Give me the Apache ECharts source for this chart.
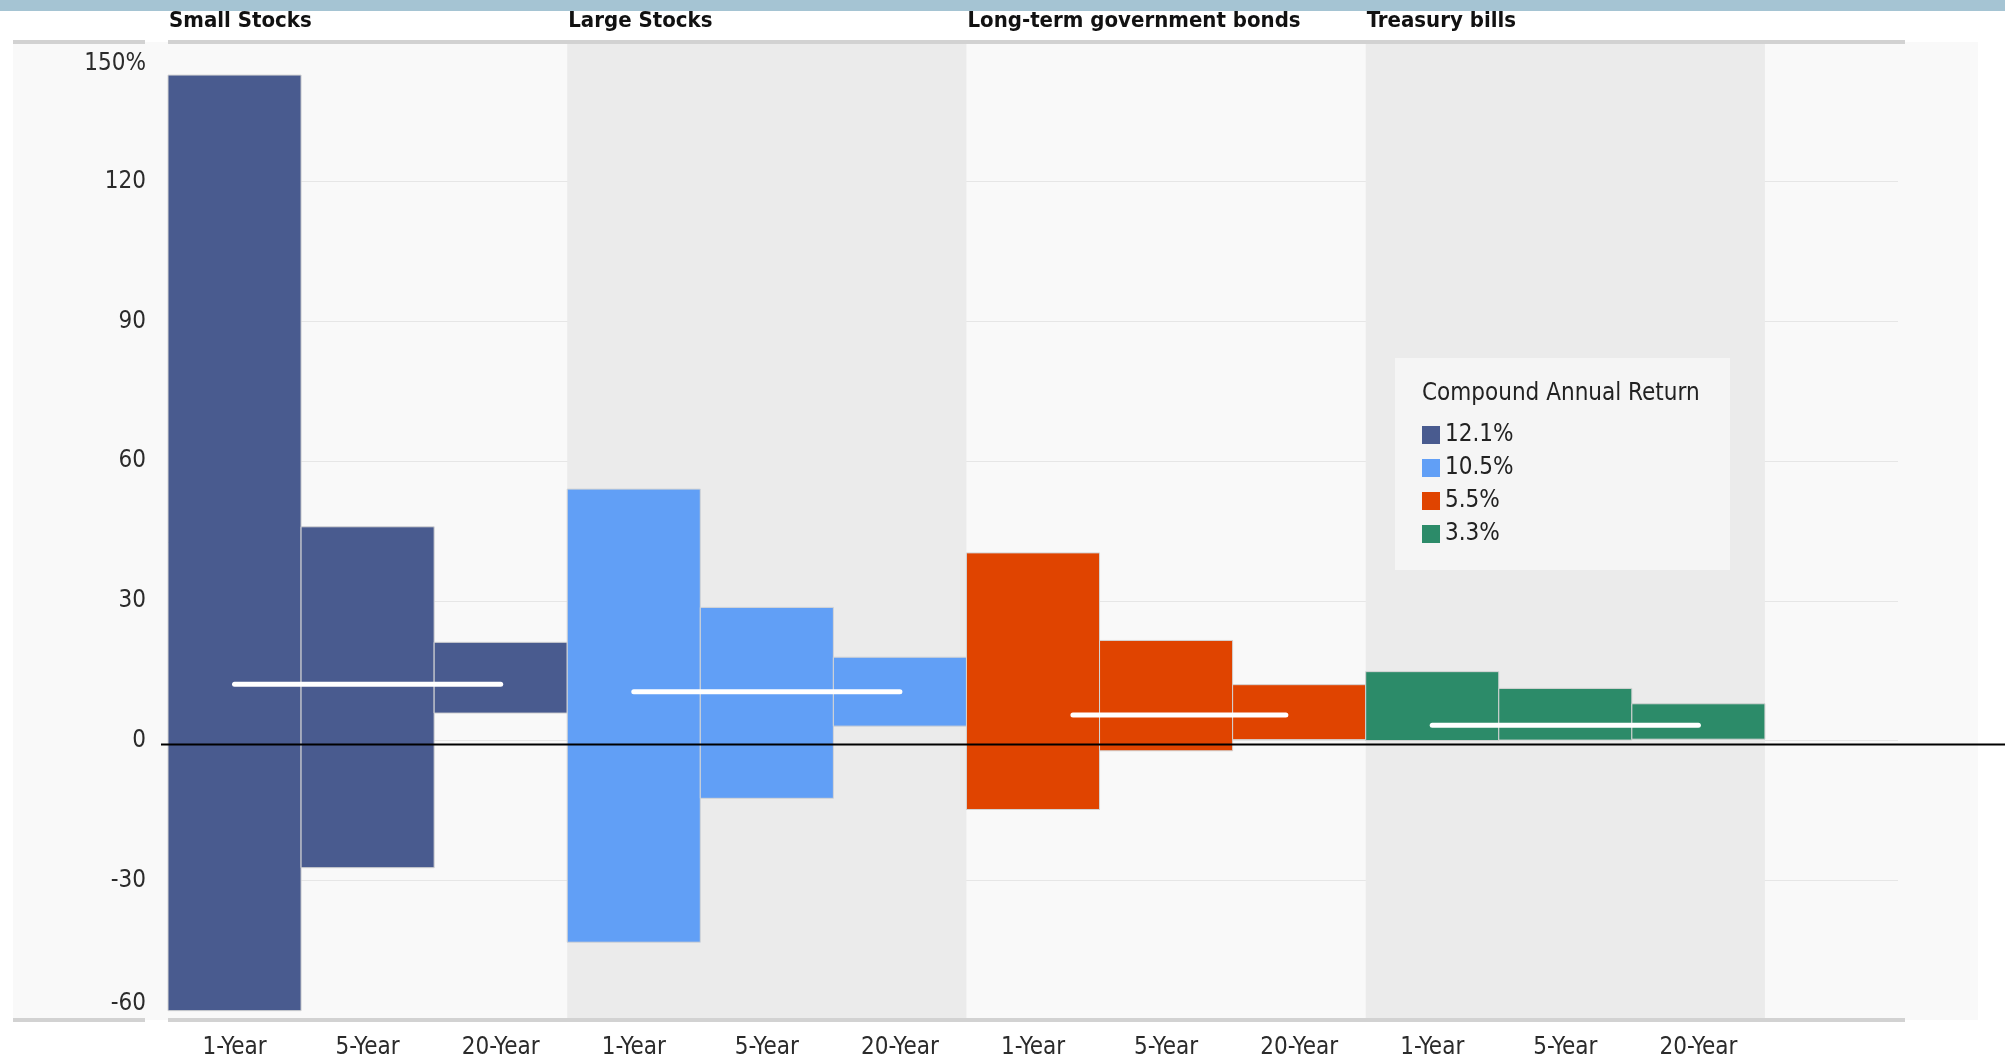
<!DOCTYPE html>
<html>
<head>
<meta charset="utf-8">
<script src="https://cdn.jsdelivr.net/npm/echarts@6/dist/echarts.min.js"></script>
<style>
  html, body { margin: 0; background: #fff; }
  #chart { width: 2005px; height: 1064px; }
</style>
</head>
<body>
<div id="chart"></div>
<script>
const periods = ['1-Year', '5-Year', '20-Year']
const groups = ['Small Stocks', 'Large Stocks', 'Long-term government bonds', 'Treasury bills']
const returnNames = ['12.1%', '10.5%', '5.5%', '3.3%']
const compoundReturn = [12.1, 10.5, 5.5, 3.3]
// where each white return line starts and ends, in column units
const meanStart = [0, 3, 6.3, 9]
const meanEnd = [2, 5, 7.9, 11]
// best and worst rolling returns, per group: 1-Year, 5-Year, 20-Year
const highs = [
  [142.9, 45.9, 21.1],
  [54.0, 28.6, 17.9],
  [40.3, 21.5, 12.0],
  [14.8, 11.2, 7.9]
]
const lows = [
  [-58.0, -27.3, 5.9],
  [-43.3, -12.4, 3.1],
  [-14.8, -2.2, 0.2],
  [0.0, 0.1, 0.3]
]
const yMin = -60
const yMax = 150
const yStep = 30

const colors = ['#495b8f', '#619ff6', '#e04400', '#2c8b69']
const font = "'Liberation Sans Narrow', 'DejaVu Sans Condensed', sans-serif"
const textColor = '#2b2b2b'

// 12 columns plus one empty slot on the right
const categories = groups.flatMap(() => periods).concat([''])

const chart = echarts.init(document.getElementById('chart'))

const renderRange = (params, api) => {
  const x = api.value(0)
  const hi = api.coord([x, api.value(2)])
  const lo = api.coord([x, api.value(1)])
  const w = api.size([1, 0])[0]
  return {
    type: 'rect',
    shape: {x: hi[0] - w / 2, y: hi[1], width: w, height: lo[1] - hi[1]},
    style: {fill: api.visual('color'), stroke: '#d4d4d4', lineWidth: 1}
  }
}

// one grey block per shaded group, from its first to its last column
const renderBand = (params, api) => {
  const a = api.coord([api.value(0), yMax])
  const b = api.coord([api.value(1), yMin])
  const w = api.size([1, 0])[0]
  return {
    type: 'rect',
    shape: {x: a[0] - w / 2, y: a[1], width: b[0] - a[0] + w, height: b[1] - a[1]},
    style: {fill: '#ebebeb'}
  }
}

const rangeSeries = groups.map((g, gi) => ({
  name: returnNames[gi],
  type: 'custom',
  renderItem: renderRange,
  itemStyle: {color: colors[gi]},
  encode: {x: 0, y: [1, 2]},
  data: periods.map((p, pi) => [gi * 3 + pi, lows[gi][pi], highs[gi][pi]]),
  z: 3
}))

const meanSeries = groups.map((g, gi) => ({
  name: 'mean ' + g,
  type: 'line',
  xAxisIndex: 1,
  symbol: 'none',
  silent: true,
  lineStyle: {color: '#fff', width: 5, cap: 'round'},
  data: [[meanStart[gi], compoundReturn[gi]], [meanEnd[gi], compoundReturn[gi]]],
  z: 6
}))

// shaded bands behind Large Stocks and Treasury bills
const bandSeries = {
  type: 'custom',
  silent: true,
  renderItem: renderBand,
  encode: {x: [0, 1]},
  data: [[3, 5], [9, 11]],
  z: 1
}

const labelStyle = {fontSize: 24, fontFamily: font, color: textColor}

const option = {
  animation: false,
  grid: {left: 168, right: 107, top: 42, bottom: 44},
  xAxis: [{
    type: 'category',
    data: categories,
    axisLine: {show: false},
    axisTick: {show: false},
    axisLabel: Object.assign({margin: 16}, labelStyle)
  }, {
    type: 'value',
    min: -0.5,
    max: categories.length - 0.5,
    show: false
  }],
  yAxis: {
    type: 'value',
    min: yMin,
    max: yMax,
    interval: yStep,
    axisLine: {show: false},
    axisTick: {show: false},
    splitLine: {lineStyle: {color: '#e6e6e6'}},
    axisLabel: Object.assign({
      margin: 22,
      verticalAlignMaxLabel: 'top',
      verticalAlignMinLabel: 'bottom',
      formatter: v => (v === yMax ? '{top|' + v + '%}' : v === yMin ? '{bot|' + v + '}' : String(v)),
      rich: {
        top: Object.assign({padding: [10, 0, 0, 0]}, labelStyle),
        bot: Object.assign({padding: [0, 0, 4, 0]}, labelStyle)
      }
    }, labelStyle)
  },
  legend: {
    data: returnNames,
    orient: 'vertical',
    left: 1417,
    top: 418,
    icon: 'rect',
    itemWidth: 18,
    itemHeight: 18,
    itemGap: 9,
    textStyle: {fontSize: 24, fontFamily: font, color: '#222'},
    z: 6
  },
  series: [bandSeries].concat(rangeSeries, meanSeries)
}

chart.setOption(option)

const px = (i, v) => chart.convertToPixel({xAxisIndex: 0, yAxisIndex: 0}, [i, v])
const bandW = px(1, 0)[0] - px(0, 0)[0]
const plotLeft = px(0, 0)[0] - bandW / 2
const plotRight = px(12, 0)[0] + bandW / 2
const plotTop = px(0, yMax)[1]
const plotBottom = px(0, yMin)[1]
const zeroY = px(0, 0)[1]

const hLine = (x1, x2, y, color, width, z) => ({
  type: 'line',
  shape: {x1, y1: y, x2, y2: y},
  style: {stroke: color, lineWidth: width},
  silent: true,
  z
})

const graphic = [
  {type: 'rect', shape: {x: 13, y: plotTop, width: 1965, height: plotBottom - plotTop}, style: {fill: '#f9f9f9'}, z: -10, silent: true},
  {type: 'rect', shape: {x: 0, y: 0, width: 2005, height: 11}, style: {fill: '#a5c4d3'}, z: 1, silent: true},
  hLine(13, plotLeft - 23, plotTop, '#d2d2d2', 4, 2),
  hLine(plotLeft, plotRight + 7, plotTop, '#d2d2d2', 4, 2),
  hLine(13, plotLeft - 23, plotBottom, '#d2d2d2', 4, 2),
  hLine(plotLeft, plotRight + 7, plotBottom, '#d2d2d2', 4, 2),
  hLine(plotLeft - 7, 2005, zeroY + 4, '#000', 2, 8),
  {type: 'rect', shape: {x: 1395, y: 358, width: 335, height: 212}, style: {fill: '#f5f5f5'}, z: 4, silent: true},
  {
    type: 'text', x: 1422, y: 394, z: 7, silent: true,
    style: {text: 'Compound Annual Return', fontSize: 24, fontFamily: font, fill: '#222', verticalAlign: 'middle'}
  }
].concat(groups.map((g, gi) => ({
  type: 'text',
  x: plotLeft + gi * 3 * bandW + 1,
  y: 21,
  z: 7,
  silent: true,
  style: {text: g, fontSize: 22, fontWeight: 'bold', fontFamily: font, fill: '#111', verticalAlign: 'middle'}
})))

chart.setOption({graphic})
</script>
</body>
</html>
